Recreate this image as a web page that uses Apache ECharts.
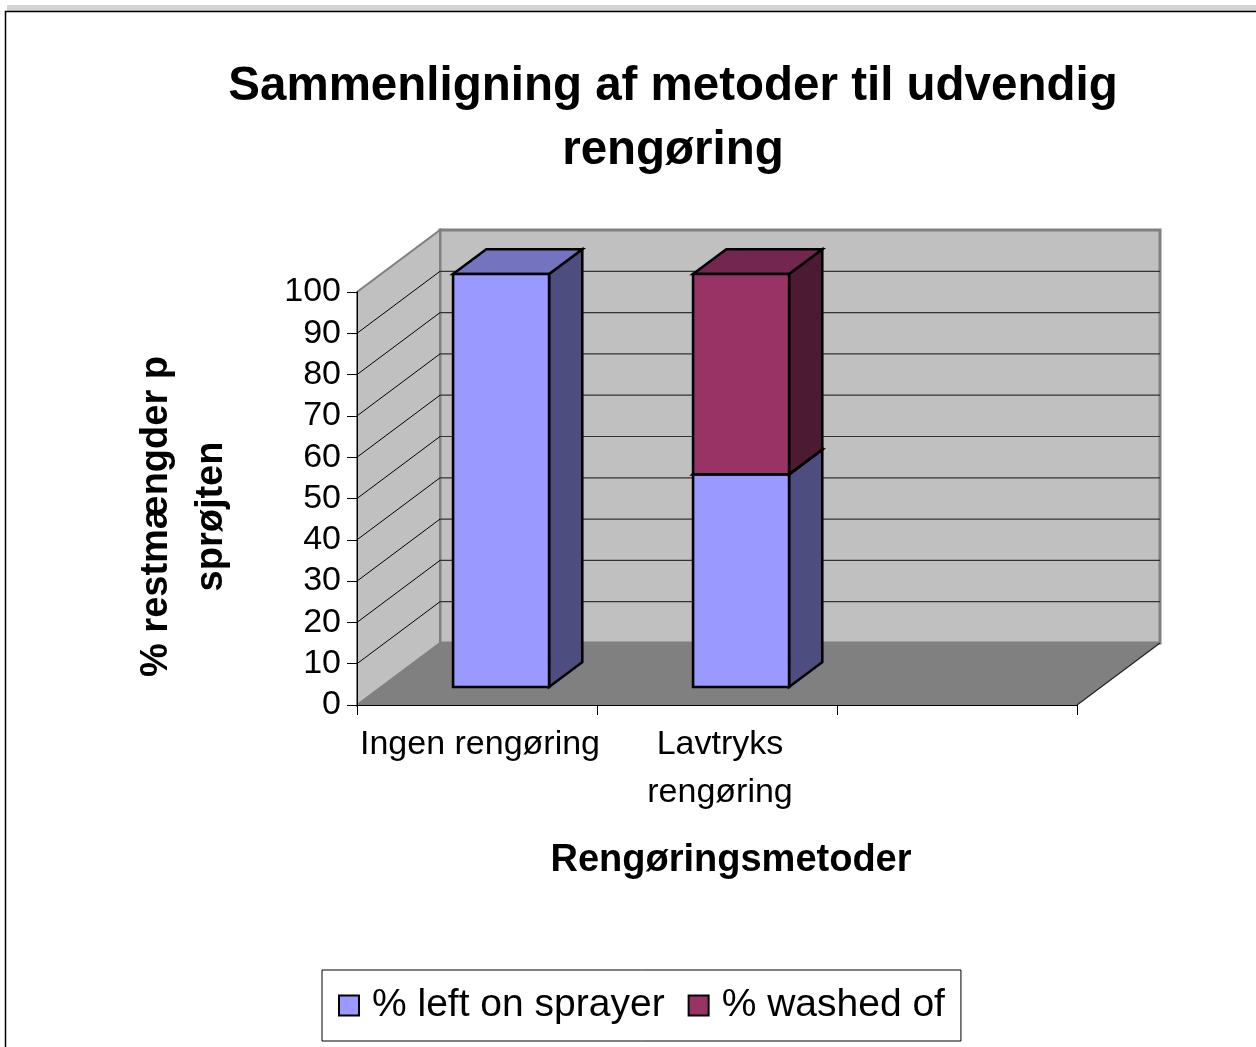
<!DOCTYPE html>
<html>
<head>
<meta charset="utf-8">
<title>Sammenligning af metoder til udvendig rengøring</title>
<script src="https://cdn.jsdelivr.net/npm/echarts@6/dist/echarts.min.js"></script>
<style>
  html, body { margin: 0; padding: 0; background: #fff; }
  #chart { width: 1256px; height: 1047px; }
</style>
</head>
<body>
<div id="chart"></div>
<script>
// ---- data ----
const categories = ['Ingen rengøring', 'Lavtryks\nrengøring', ''];
const leftOnSprayer = [100, 51.5, null];
const washedOff = [0, 48.5, null];
const yTicks = [0, 10, 20, 30, 40, 50, 60, 70, 80, 90, 100];
const seriesNames = ['% left on sprayer', '% washed of'];

// ---- 3D look ----
const DEPTH_X = 83;      // screen offset of the back wall relative to the front plane
const DEPTH_Y = -62;
const BAR_FRONT = 0.29;  // depth fraction where the bar front face sits
const BAR_DEPTH = 0.40;  // depth fraction occupied by the bar
const BAR_WIDTH = 0.40;  // share of the category band
const FONT = '"Liberation Sans", Arial, sans-serif';

const palette = [
  { front: '#9999FF', side: '#4D4D80', top: '#7373BF' },
  { front: '#993366', side: '#4D1A33', top: '#732650' }
];

// stacked segments: [category index, base, top]
const leftData = leftOnSprayer.map((v, i) => [i, 0, v]);
const washedData = washedOff.map((v, i) => [i, leftOnSprayer[i], (leftOnSprayer[i] == null || v == null) ? null : leftOnSprayer[i] + v]);

function renderWalls(params, api) {
  const cs = params.coordSys;
  const x0 = cs.x, x1 = cs.x + cs.width;
  const yT = cs.y, yB = cs.y + cs.height;
  const children = [];
  // back wall
  children.push({
    type: 'rect',
    shape: { x: x0 + DEPTH_X, y: yT + DEPTH_Y, width: cs.width, height: cs.height },
    style: { fill: '#C0C0C0', stroke: '#808080', lineWidth: 3 }
  });
  // left side wall
  children.push({
    type: 'polygon',
    shape: { points: [[x0, yB], [x0, yT], [x0 + DEPTH_X, yT + DEPTH_Y], [x0 + DEPTH_X, yB + DEPTH_Y]] },
    style: { fill: '#C0C0C0', stroke: '#808080', lineWidth: 2 }
  });
  // floor
  children.push({
    type: 'polygon',
    shape: { points: [[x0, yB], [x0 + DEPTH_X, yB + DEPTH_Y], [x1 + DEPTH_X, yB + DEPTH_Y], [x1, yB]] },
    style: { fill: '#808080' }
  });
  children.push({
    type: 'line',
    shape: { x1: x1, y1: yB, x2: x1 + DEPTH_X, y2: yB + DEPTH_Y },
    style: { stroke: '#222', lineWidth: 1.2 }
  });
  // grid lines on side and back wall
  yTicks.forEach(function (v) {
    if (v <= yTicks[0] || v >= yTicks[yTicks.length - 1]) return;
    const y = api.coord([0, v])[1];
    children.push({
      type: 'line',
      shape: { x1: x0, y1: y, x2: x0 + DEPTH_X, y2: y + DEPTH_Y },
      style: { stroke: '#000', lineWidth: 1 }
    });
    children.push({
      type: 'line',
      shape: { x1: x0 + DEPTH_X, y1: y + DEPTH_Y, x2: x1 + DEPTH_X, y2: y + DEPTH_Y },
      style: { stroke: '#333', lineWidth: 1.2 }
    });
  });
  return { type: 'group', children: children, silent: true };
}

function boxRenderer(colors) {
  return function (params, api) {
    const cat = api.value(0), base = api.value(1), top = api.value(2);
    if (isNaN(top) || isNaN(base) || !(top > base)) return;
    const pTop = api.coord([cat, top]);
    const pBase = api.coord([cat, base]);
    const band = api.size([1, 0])[0];
    const w = band * BAR_WIDTH;
    const ox = DEPTH_X * BAR_FRONT, oy = DEPTH_Y * BAR_FRONT;
    const dx = DEPTH_X * BAR_DEPTH, dy = DEPTH_Y * BAR_DEPTH;
    const xa = pTop[0] - w / 2 + ox, xb = xa + w;
    const ya = pTop[1] + oy, yb = pBase[1] + oy;
    const edge = { stroke: '#000', lineWidth: 2.6, lineJoin: 'miter' };
    return {
      type: 'group',
      children: [
        { type: 'polygon', shape: { points: [[xb, ya], [xb + dx, ya + dy], [xb + dx, yb + dy], [xb, yb]] },
          style: Object.assign({ fill: colors.side }, edge) },
        { type: 'polygon', shape: { points: [[xa, ya], [xa + dx, ya + dy], [xb + dx, ya + dy], [xb, ya]] },
          style: Object.assign({ fill: colors.top }, edge) },
        { type: 'rect', shape: { x: xa, y: ya, width: w, height: yb - ya },
          style: Object.assign({ fill: colors.front }, edge) }
      ]
    };
  };
}

const chart = echarts.init(document.getElementById('chart'), null, { renderer: 'canvas' });

chart.setOption({
  backgroundColor: '#fff',
  animation: false,
  textStyle: { fontFamily: FONT },
  title: {
    text: 'Sammenligning af metoder til udvendig\nrengøring',
    left: 668,
    textAlign: 'center',
    top: 50,
    textStyle: { fontFamily: FONT, fontSize: 47.5, fontWeight: 'bold', color: '#000', lineHeight: 64 }
  },
  grid: { left: 357, top: 292, width: 720, height: 413, containLabel: false },
  xAxis: {
    type: 'category',
    data: categories,
    boundaryGap: true,
    z: 5,
    axisLine: { show: true, lineStyle: { color: '#000', width: 1 } },
    axisTick: { show: true, length: 10, interval: 0, lineStyle: { color: '#000' } },
    axisLabel: { interval: 0, margin: 16, color: '#000', fontSize: 34, lineHeight: 48, fontFamily: FONT, padding: [0, 0, 0, 6] },
    splitLine: { show: false },
    name: 'Rengøringsmetoder',
    nameLocation: 'middle',
    nameGap: 137,
    nameTextStyle: { fontFamily: FONT, fontSize: 38, fontWeight: 'bold', color: '#000', padding: [0, 0, 0, 28] }
  },
  yAxis: {
    type: 'value',
    min: 0,
    max: 100,
    interval: 10,
    z: 5,
    axisLine: { show: true, lineStyle: { color: '#000', width: 1 } },
    axisTick: { show: true, length: 10, lineStyle: { color: '#000' } },
    axisLabel: { margin: 16, color: '#000', fontSize: 34, fontFamily: FONT },
    splitLine: { show: false },
    name: '% restmængder på\nsprøjten',
    nameLocation: 'middle',
    nameGap: 118,
    nameTruncate: { maxWidth: 332, ellipsis: '' },
    nameTextStyle: {
      fontFamily: FONT, fontSize: 38, fontWeight: 'bold', color: '#000', lineHeight: 55,
      width: 332, overflow: 'truncate', ellipsis: '', align: 'center', padding: [0, 36, 0, 0]
    }
  },
  legend: {
    data: seriesNames,
    left: 322,
    top: 970,
    orient: 'horizontal',
    padding: 16,
    itemGap: 23,
    itemWidth: 20,
    itemHeight: 20,
    icon: 'rect',
    borderColor: '#000',
    borderWidth: 1,
    itemStyle: { borderColor: '#000', borderWidth: 2 },
    textStyle: { fontFamily: FONT, fontSize: 39, color: '#000', padding: [0, 0, 0, 8] }
  },
  graphic: [
    { type: 'rect', silent: true, z: -1, shape: { x: 7, y: 5, width: 1249, height: 6 }, style: { fill: '#D4D4D4' } },
    { type: 'rect', silent: true, z: -1, shape: { x: 5.5, y: 11.5, width: 1300, height: 1100 }, style: { fill: 'none', stroke: '#000', lineWidth: 1.5 } }
  ],
  series: [
    {
      type: 'custom',
      name: 'walls',
      z: 1,
      silent: true,
      clip: false,
      data: [[0, 0]],
      renderItem: renderWalls
    },
    {
      type: 'custom',
      name: seriesNames[0],
      z: 3,
      clip: false,
      itemStyle: { color: palette[0].front },
      encode: { x: 0, y: 2 },
      data: leftData,
      renderItem: boxRenderer(palette[0])
    },
    {
      type: 'custom',
      name: seriesNames[1],
      z: 3,
      clip: false,
      itemStyle: { color: palette[1].front },
      encode: { x: 0, y: 2 },
      data: washedData,
      renderItem: boxRenderer(palette[1])
    }
  ]
});
</script>
</body>
</html>
